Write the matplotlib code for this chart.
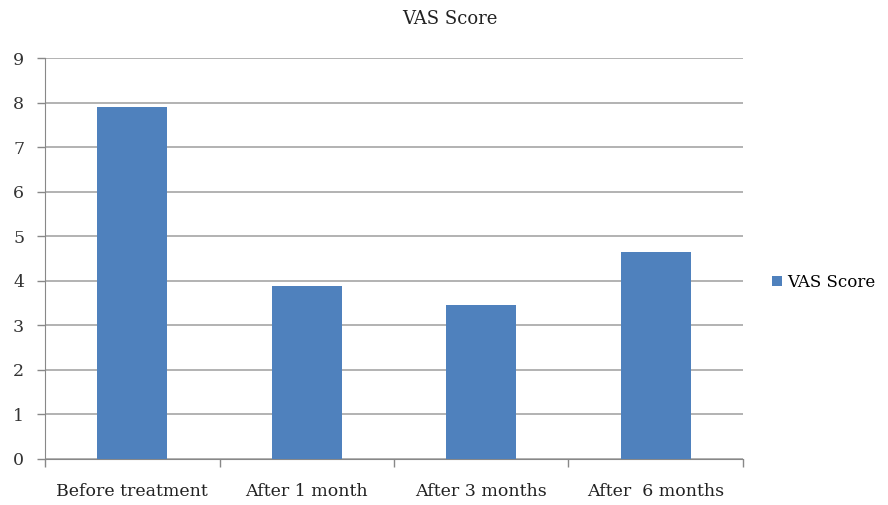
import matplotlib
import matplotlib.pyplot as plt
import numpy as np

matplotlib.use("Agg")

categories = ["Before treatment", "After 1 month", "After 3 months", "After  6 months"]
scores = [7.9, 3.88, 3.45, 4.65]
yticks = [0, 1, 2, 3, 4, 5, 6, 7, 8, 9]

plt.rcParams["font.family"] = ["DejaVu Serif"]

fig = plt.figure(figsize=(8.88, 5.05), dpi=100)
ax = fig.add_axes([0.0507, 0.0911, 0.786, 0.794])

x = np.arange(len(categories))
ax.bar(x, scores, width=0.4, color="#4f81bd", label="VAS Score", zorder=3)

ax.set_xlim(-0.5, len(categories) - 0.5)
ax.set_ylim(0, 9)
ax.set_yticks(yticks)
ax.set_yticklabels([str(t) for t in yticks], fontsize=12.5, color="#333333")

# category boundaries get the tick marks, labels sit centred
ax.set_xticks(np.arange(len(categories) + 1) - 0.5)
ax.set_xticklabels([])
ax.set_xticks(x, minor=True)
ax.set_xticklabels(categories, minor=True, fontsize=12.5, color="#222222")
ax.tick_params(axis="x", which="major", length=6, color="#888888", width=1)
ax.tick_params(axis="x", which="minor", length=0, pad=17)
ax.tick_params(axis="y", length=6, color="#888888", width=1, pad=9)

ax.grid(axis="y", color="#a6a6a6", linewidth=1.2, zorder=0)
for s in ["top", "right"]:
    ax.spines[s].set_visible(False)
ax.spines["left"].set_color("#888888")
ax.spines["bottom"].set_color("#888888")

fig.text(0.507, 0.962, "VAS Score", ha="center", va="center", fontsize=13, color="#222222")

ax.legend(loc="center left", bbox_to_anchor=(1.02, 0.44), frameon=False,
          fontsize=12, handlelength=0.6, handleheight=0.6, handletextpad=0.3)

plt.savefig("out.png", dpi=100)
